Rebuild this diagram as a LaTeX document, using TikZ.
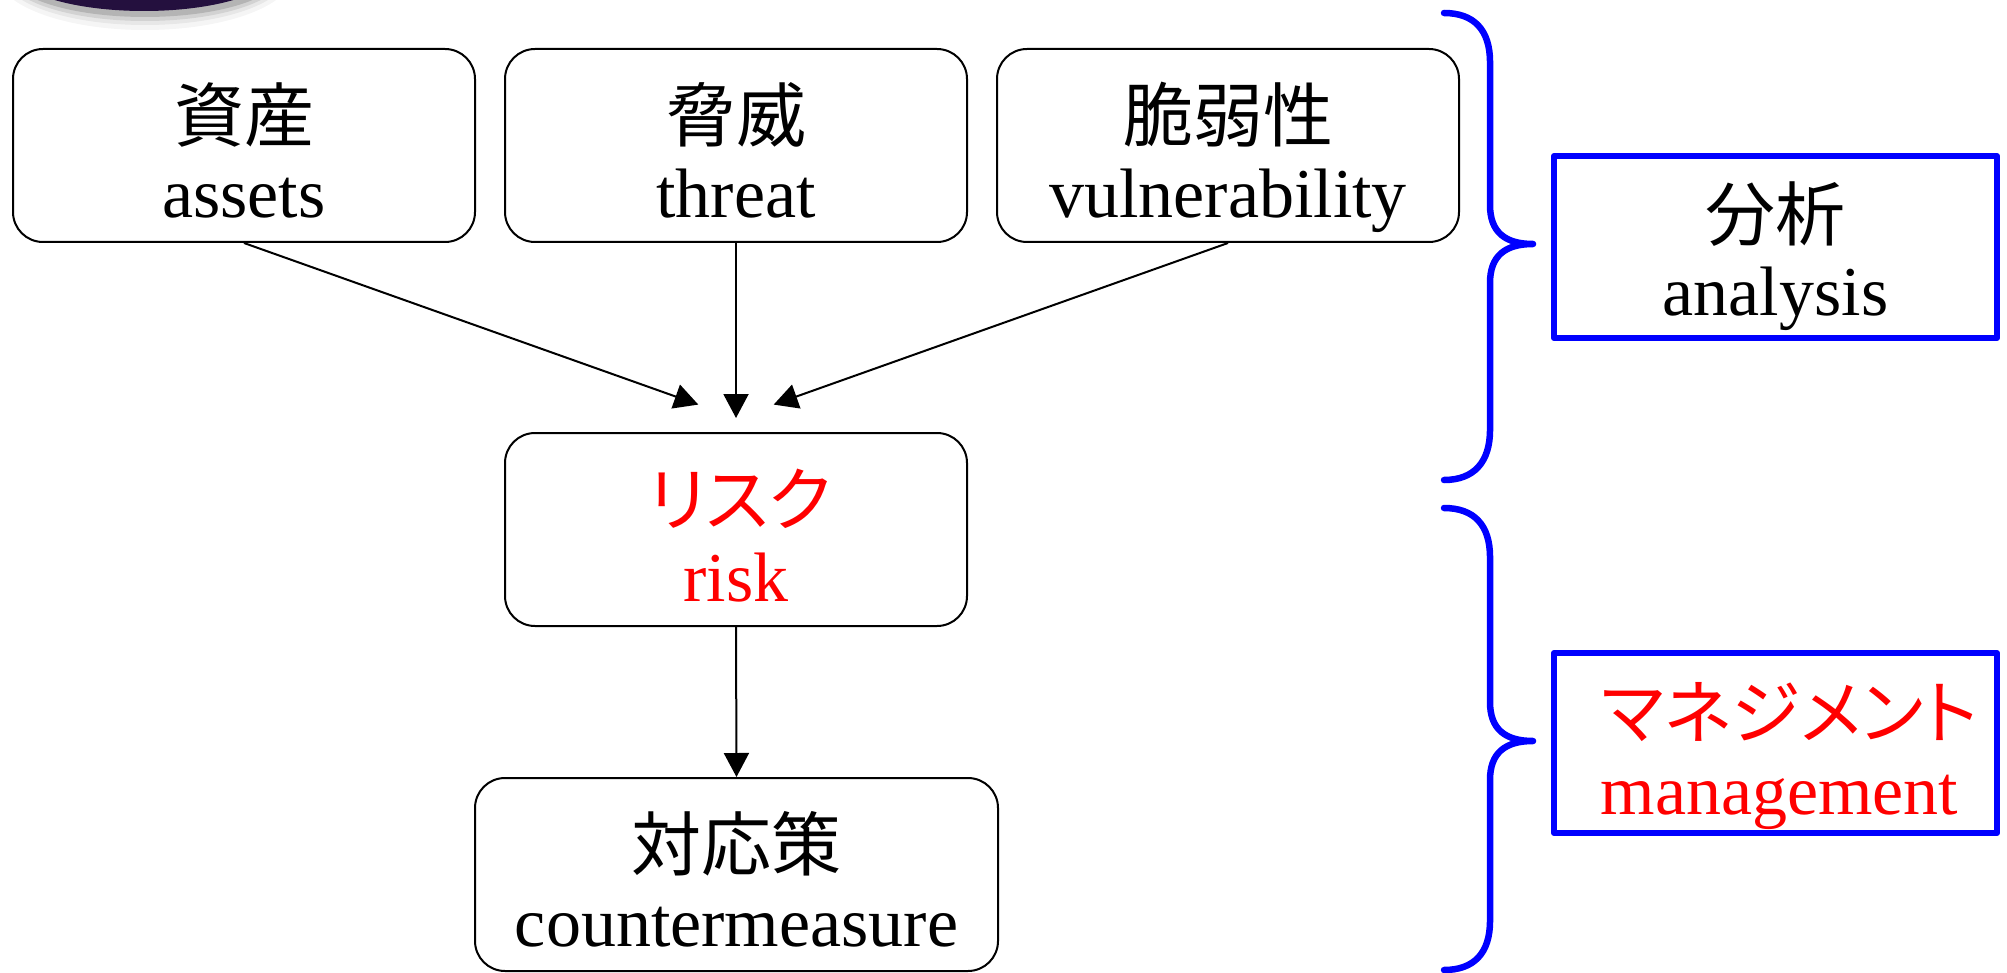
\documentclass[tikz,border=0pt]{standalone}
\usepackage{fontspec}
\setmainfont{Liberation Serif}
\newfontfamily\jpfont{Noto Sans CJK JP}
\newfontfamily\jpkana[RawFeature=+palt]{Noto Sans CJK JP}
\usetikzlibrary{arrows.meta}
\definecolor{pureblue}{RGB}{0,0,255}
\definecolor{purered}{RGB}{255,0,0}
\definecolor{orbdark}{RGB}{36,16,62}

\begin{document}
\begin{tikzpicture}[x=0.5pt,y=-0.5pt,
  box/.style={draw=black, line width=1pt, rounded corners=15pt,
    minimum width=231pt, minimum height=96.5pt, inner sep=0pt},
  tag/.style={draw=pureblue, line width=3pt, line join=round,
    minimum width=221.5pt, minimum height=91pt, inner sep=0pt},
  jp/.style={font=\jpfont\fontsize{35}{35}\selectfont, inner sep=0pt, anchor=base},
  kana/.style={font=\jpkana\fontsize{35}{35}\selectfont, inner sep=0pt, anchor=base},
  en/.style={font=\fontsize{35}{35}\selectfont, inner sep=0pt, anchor=base},
  flow/.style={line width=1pt, -{Triangle[length=12pt,width=12.5pt]}},
  brace/.style={draw=pureblue, line width=3.25pt, line cap=round, line join=round}
]
\useasboundingbox (0,0) rectangle (2007,973);
\clip (0,0) rectangle (2007,973);

% dark orb peeking in at the top left, with its soft shadow
\foreach \r/\o in {16/0.04,11/0.06,7/0.09,3/0.14}
  \fill[black, opacity=\o] (145,-26) ellipse [x radius=132+\r, y radius=40+\r];
\fill[orbdark] (144,-32) ellipse [x radius=134, y radius=43];

% factor boxes
\node[box] (assets) at (244,145.5) {};
\node[jp] (assets-jp) at ([yshift=2pt]assets.center) {資産};
\node[en] (assets-en) at ([yshift=-36pt]assets.center) {assets};

\node[box] (threat) at (736,145.5) {};
\node[jp] (threat-jp) at ([yshift=2pt]threat.center) {脅威};
\node[en] (threat-en) at ([yshift=-36pt]threat.center) {threat};

\node[box] (vuln) at (1228,145.5) {};
\node[jp] (vuln-jp) at ([yshift=2pt]vuln.center) {脆弱性};
\node[en] (vuln-en) at ([yshift=-36pt]vuln.center) {vulnerability};

% risk
\node[box] (risk) at (736,529.5) {};
\node[kana, text=purered] (risk-jp) at ([xshift=2pt,yshift=2pt]risk.center) {リスク};
\node[en, text=purered] (risk-en) at ([yshift=-36pt]risk.center) {risk};

% countermeasure
\node[box, minimum width=261.5pt] (counter) at (736.5,874.5) {};
\node[jp] (counter-jp) at ([yshift=2pt]counter.center) {対応策};
\node[en] (counter-en) at ([yshift=-36pt]counter.center) {countermeasure};

% arrows into risk and on to countermeasure
\coordinate (meet) at (736,418);
\draw[flow, shorten >=20pt] (assets.south) -- (meet);
\draw[flow] (threat.south) -- (meet);
\draw[flow, shorten >=20pt] (vuln.south) -- (meet);
\draw[flow] (risk.south) -- (counter.north);

% braces
\draw[brace] (1444,13) .. controls (1474,13) and (1490,30) .. (1490,62)
  -- (1490,205) .. controls (1490,232) and (1505,244) .. (1533,244)
  .. controls (1505,244) and (1490,256) .. (1490,283)
  -- (1490,430) .. controls (1490,462) and (1474,480) .. (1444,480);
\draw[brace] (1444,508) .. controls (1474,508) and (1490,525) .. (1490,557)
  -- (1490,702) .. controls (1490,729) and (1505,741) .. (1533,741)
  .. controls (1505,741) and (1490,753) .. (1490,780)
  -- (1490,921) .. controls (1490,953) and (1474,970) .. (1444,970);

% phase labels
\node[tag] (analysis) at (1775.5,247) {};
\node[jp] (analysis-jp) at ([yshift=3pt]analysis.center) {分析};
\node[en] (analysis-en) at ([yshift=-34pt]analysis.center) {analysis};

\node[tag, minimum height=90pt] (mgmt) at (1775.5,743) {};
\node[kana, text=purered] (mgmt-jp) at ([xshift=7pt,yshift=2.5pt]mgmt.center) {マネジメント};
\node[en, text=purered] (mgmt-en) at ([xshift=2pt,yshift=-35.5pt]mgmt.center) {management};
\end{tikzpicture}
\end{document}
